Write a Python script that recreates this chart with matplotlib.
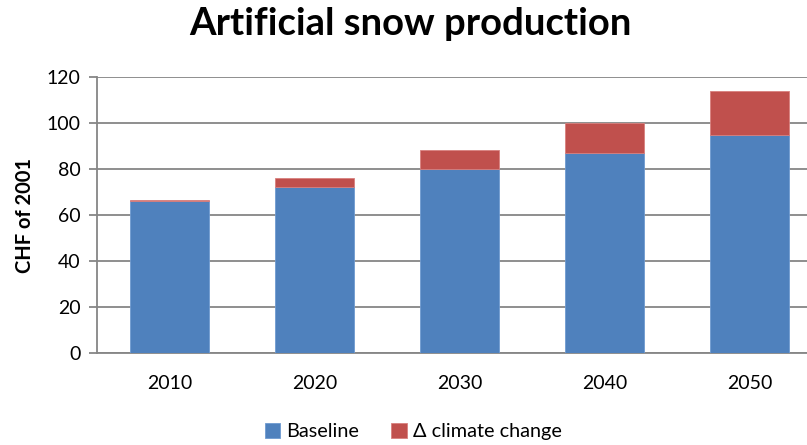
import matplotlib.pyplot as plt
import numpy as np

plt.rcParams['font.family'] = ['Lato', 'DejaVu Sans']

years = ['2010', '2020', '2030', '2040', '2050']
baseline = [66.1, 72.3, 80.0, 86.8, 94.6]
climate_delta = [0.5, 3.6, 8.3, 13.3, 19.3]

blue = '#4f81bd'
red = '#c0504d'
grey = '#868686'

fig = plt.figure(figsize=(8.07, 4.45), dpi=100)
# plot area runs slightly past the right edge of the canvas
ax = fig.add_axes([0.1202, 0.2067, 0.8984, 0.6203])

x = np.arange(len(years))
w = 0.55
b1 = ax.bar(x, baseline, w, color=blue, edgecolor='#6f9ad0', linewidth=0.6,
            label='Baseline', zorder=3)
b2 = ax.bar(x, climate_delta, w, bottom=baseline, color=red, edgecolor='#d8807e',
            linewidth=0.6, label='\u0394 climate change', zorder=3)

ax.set_xlim(-0.5, len(years) - 0.5)
ax.set_ylim(0, 120)
ax.set_yticks(np.arange(0, 121, 20))
ax.set_xticks(x)
ax.set_xticklabels(years)
ax.yaxis.grid(True, color=grey, linewidth=1.3, zorder=0)
ax.set_axisbelow(True)

for side in ['top', 'right']:
    ax.spines[side].set_visible(False)
for side in ['left', 'bottom']:
    ax.spines[side].set_color(grey)
    ax.spines[side].set_linewidth(1.3)

ax.tick_params(axis='y', length=6, width=1.3, color=grey, labelsize=14, pad=6)
ax.tick_params(axis='x', length=0, labelsize=14, pad=16)

ax.set_ylabel('CHF of 2001', fontsize=14.5, fontweight='bold', labelpad=8)

fig.text(0.508, 0.945, 'Artificial snow production', ha='center', va='center',
         fontsize=27.5, fontweight='bold')

fig.legend(handles=[b1, b2], loc='center', bbox_to_anchor=(0.512, 0.03),
           ncol=2, frameon=False, fontsize=14.3, handlelength=0.8, handleheight=0.8,
           handletextpad=0.3, columnspacing=1.6)

fig.savefig('out.png', dpi=100)
